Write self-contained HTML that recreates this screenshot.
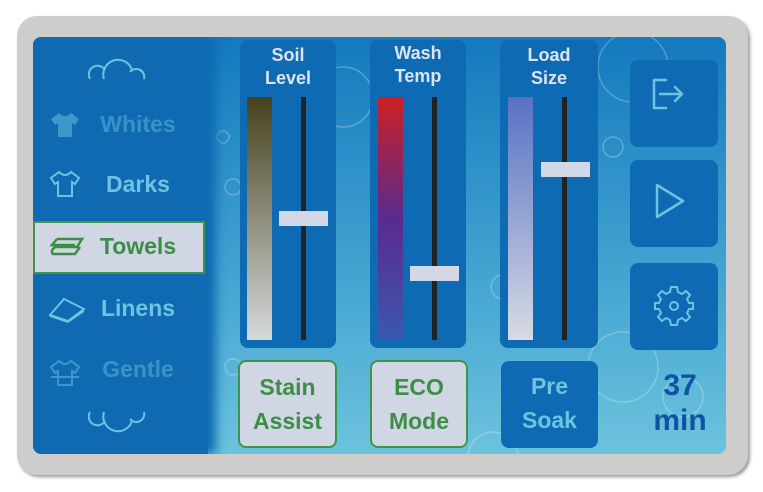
<!DOCTYPE html>
<html><head><style>
*{margin:0;padding:0;box-sizing:border-box}
body{width:763px;height:492px;background:#fff;position:relative;overflow:hidden;font-family:"Liberation Sans","DejaVu Sans",sans-serif;font-weight:bold}
.a{position:absolute}
#frame{left:17px;top:16px;width:731px;height:459px;background:#cfcdcb;border-radius:20px;box-shadow:2px 2px 3px #999}
#screen{left:33px;top:37px;width:693px;height:417px;border-radius:8px;overflow:hidden;background:linear-gradient(#1479bd,#3d9fcf 50%,#6cc3dd)}
#side{left:0;top:0;width:175px;height:417px;background:#0f6ab2;box-shadow:8px 0 10px #0f6ab2}
.item{position:absolute;left:50px;width:110px;font-size:23px;color:#6ec3e0;text-align:center}
.panel{position:absolute;background:#0f6ab4;border-radius:8px}
.lbl{position:absolute;width:100%;text-align:center;color:#dde3ef;font-size:18px;line-height:23px}
.bar{position:absolute;width:25px}
.track{position:absolute;width:5px;background:#222}
.thumb{position:absolute;width:49px;height:15px;background:#d2d8e6}
.btn{position:absolute;border-radius:8px;font-size:23px;line-height:34px;text-align:center;padding-top:8px}
.lt{background:#d0d6e4;border:2px solid #3f9448;color:#3c8e46}
.dk{background:#0f6ab4;color:#6ec3e0}
.rb{position:absolute;left:597px;width:88px;height:87px;background:#0f6ab4;border-radius:8px}
</style></head><body>
<div id="frame" class="a"></div>
<div id="screen" class="a">
<svg class="a" style="left:0;top:0" width="693" height="417" fill="none" stroke="rgba(255,255,255,0.25)" stroke-width="1.5">
<circle cx="310" cy="60" r="30"/><circle cx="600" cy="30" r="35"/><circle cx="250" cy="290" r="15"/><circle cx="590" cy="330" r="35"/><circle cx="470" cy="250" r="12"/><circle cx="200" cy="150" r="8"/><circle cx="200" cy="330" r="8"/><circle cx="350" cy="170" r="12"/><circle cx="650" cy="360" r="20"/><circle cx="480" cy="380" r="10"/><circle cx="190" cy="100" r="6"/><circle cx="580" cy="110" r="10"/><circle cx="460" cy="420" r="25"/>
</svg>
<div id="side" class="a"></div>
<svg class="a" style="left:55px;top:20px" width="60" height="25" fill="none" stroke="#6ec3e0" stroke-width="2"><path d="M2 22 A8 8 0 0 1 17 13 M16 22 A14 14 0 0 1 44 13 M42 15 A8 8 0 0 1 56 22"/></svg>
<div class="item" style="top:74px;opacity:.45">Whites</div>
<div class="item" style="top:134px">Darks</div>
<svg class="a" style="left:16px;top:133px" width="32" height="28" fill="none" stroke="#6ec3e0" stroke-width="2"><path d="M10 2 L2 8 L6 14 L9 12 V26 H23 V12 L26 14 L30 8 L22 2 Q16 8 10 2Z"/></svg>
<svg class="a" style="left:16px;top:74px;opacity:.5" width="32" height="28" fill="#6ec3e0"><path d="M10 2 L2 8 L6 14 L9 12 V26 H23 V12 L26 14 L30 8 L22 2 Q16 8 10 2Z"/></svg>
<div class="a" style="left:0;top:184px;width:172px;height:53px;background:#d0d6e4;border:2px solid #3f9448"></div>
<div class="item" style="top:196px;color:#3c8e46">Towels</div>
<svg class="a" style="left:16px;top:198px" width="36" height="22" fill="none" stroke="#3c8e46" stroke-width="2.5"><path d="M8 4 H33 L28 12 H6 Q1 16 4 19 H26 L31 12 M8 4 L3 10 H26"/></svg>
<div class="item" style="top:258px">Linens</div>
<svg class="a" style="left:15px;top:260px" width="38" height="26" fill="#6ec3e0"><path d="M16 2 L36 12 L20 24 L2 18 Z" fill="none" stroke="#6ec3e0" stroke-width="2"/><path d="M2 18 L20 24 L36 12 L36 15 L20 26 L2 20Z"/></svg>
<div class="item" style="top:319px;opacity:.45">Gentle</div>
<svg class="a" style="left:16px;top:322px;opacity:.5" width="32" height="28" fill="none" stroke="#6ec3e0" stroke-width="2"><path d="M10 2 L2 8 L6 14 L9 12 V26 H23 V12 L26 14 L30 8 L22 2 Q16 8 10 2Z M2 18 H30"/></svg>
<svg class="a" style="left:55px;top:372px" width="60" height="25" fill="none" stroke="#6ec3e0" stroke-width="2"><path d="M2 3 A8 8 0 0 0 17 12 M16 3 A14 14 0 0 0 44 12 M42 10 A8 8 0 0 0 56 3"/></svg>

<div class="panel" style="left:207px;top:3px;width:96px;height:308px"><div class="lbl" style="top:4px">Soil<br>Level</div></div>
<div class="bar" style="left:214px;top:60px;height:243px;background:linear-gradient(#45421c,#d6d9dc)"></div>
<div class="track" style="left:268px;top:60px;height:243px"></div>
<div class="thumb" style="left:246px;top:174px"></div>

<div class="panel" style="left:337px;top:3px;width:96px;height:308px"><div class="lbl" style="top:2px">Wash<br>Temp</div></div>
<div class="bar" style="left:345px;top:60px;height:243px;background:linear-gradient(#cc2023,#5a2a8e 50%,#3a58b0)"></div>
<div class="track" style="left:399px;top:60px;height:243px"></div>
<div class="thumb" style="left:377px;top:229px"></div>

<div class="panel" style="left:467px;top:3px;width:98px;height:308px"><div class="lbl" style="top:4px">Load<br>Size</div></div>
<div class="bar" style="left:475px;top:60px;height:243px;background:linear-gradient(#5870c4,#d6dbe4)"></div>
<div class="track" style="left:529px;top:60px;height:243px"></div>
<div class="thumb" style="left:508px;top:125px"></div>

<div class="btn lt" style="left:205px;top:323px;width:99px;height:88px">Stain<br>Assist</div>
<div class="btn lt" style="left:337px;top:323px;width:98px;height:88px">ECO<br>Mode</div>
<div class="btn dk" style="left:468px;top:324px;width:97px;height:87px">Pre<br>Soak</div>

<div class="rb" style="top:23px"></div>
<svg class="a" style="left:617px;top:40px" width="50" height="50" fill="none" stroke="#6ec3e0" stroke-width="2.5" stroke-linecap="round" stroke-linejoin="round"><path d="M16 3 H4 V31 H16 M10 17 H32 M25 10 L32 17 L25 24"/></svg>
<div class="rb" style="top:123px"></div>
<svg class="a" style="left:620px;top:143px" width="40" height="50" fill="none" stroke="#6ec3e0" stroke-width="2.5" stroke-linejoin="round"><path d="M4 5 L4 37 L30 21 Z"/></svg>
<div class="rb" style="top:226px"></div>
<svg class="a" style="left:618px;top:246px" width="46" height="46" viewBox="-23 -23 46 46" fill="none" stroke="#6ec3e0" stroke-width="2"><path d="M-3 -19 H3 L4 -14 L8 -12 L12 -15 L16 -11 L13 -7 L15 -3 L19 -3 V3 L15 3 L13 7 L16 11 L12 15 L8 12 L4 14 L3 19 H-3 L-4 14 L-8 12 L-12 15 L-16 11 L-13 7 L-15 3 L-19 3 V-3 L-15 -3 L-13 -7 L-16 -11 L-12 -15 L-8 -12 L-4 -14 Z"/><circle r="4"/></svg>
<div class="a" style="left:603px;top:331px;width:88px;text-align:center;color:#1052a6;font-size:30px;line-height:35px">37<br>min</div>
</div>
</body></html>
